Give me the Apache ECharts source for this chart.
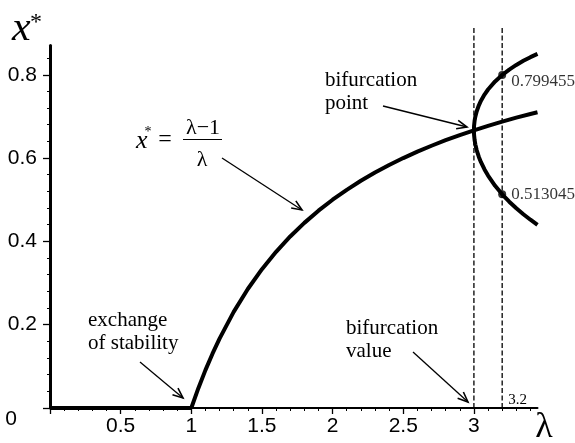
<!DOCTYPE html>
<html><head><meta charset="utf-8">
<script src="https://cdn.jsdelivr.net/npm/echarts@6/dist/echarts.min.js"></script>
<style>html,body{margin:0;padding:0;background:#fff}#c{width:575px;height:443px}</style>
</head><body><div id="c"></div>
<script>
// ---- data ----
const zeroLambda = [0, 1];
const zeroX = [0, 0];
const stableLambda = [1,1.05,1.1,1.15,1.2,1.3,1.4,1.5,1.6,1.7,1.8,1.9,2.0,2.1,2.2,2.3,2.4,2.5,2.6,2.7,2.8,2.9,3.0,3.1,3.2,3.3,3.4,3.45];
const stableX = [0,0.0476,0.0909,0.1304,0.1667,0.2308,0.2857,0.3333,0.375,0.4118,0.4444,0.4737,0.5,0.5238,0.5455,0.5652,0.5833,0.6,0.6154,0.6296,0.6429,0.6552,0.6667,0.6774,0.6875,0.6970,0.7059,0.7101];
const cycleLambda = [3.45,3.4,3.35,3.3,3.25,3.2,3.15,3.1,3.075,3.05,3.035,3.02,3.01,3.005,3.001,3.0,3.001,3.005,3.01,3.02,3.035,3.05,3.075,3.1,3.15,3.2,3.25,3.3,3.35,3.4,3.45];
const cycleX = [0.8500,0.8422,0.8334,0.8236,0.8124,0.7995,0.7840,0.7646,0.7525,0.7377,0.7267,0.7125,0.6994,0.6899,0.6772,0.6667,0.6561,0.6429,0.6329,0.6186,0.6028,0.5902,0.5727,0.5580,0.5335,0.5130,0.4953,0.4794,0.4651,0.4520,0.4398];
const markLambda = [3.2, 3.2];
const markX = [0.799455, 0.513045];
const markLabels = ['0.799455', '0.513045'];
const dashLambda = [3, 3.2];
const dashBottom = 0;
const dashTop = 0.915;
const dashValueLabel = '3.2';
const xTickValues = [0, 0.5, 1, 1.5, 2, 2.5, 3];
const xTickLabels = ['', '0.5', '1', '1.5', '2', '2.5', '3'];
const yTickValues = [0, 0.2, 0.4, 0.6, 0.8];
const yTickLabels = ['0', '0.2', '0.4', '0.6', '0.8'];
const xMin = 0, xMax = 3.45, yMin = 0, yMax = 0.87;

const SERIF = '"Liberation Serif","Times New Roman",serif';
const SANS = '"Liberation Sans",Arial,sans-serif';

const zip = (a, b) => a.map((v, i) => [v, b[i]]);
const curveStyle = { color: '#000', width: 4 };

const series = [
  { type: 'line', data: zip(zeroLambda, zeroX), showSymbol: false, lineStyle: curveStyle, z: 5 },
  { type: 'line', data: zip(stableLambda, stableX), showSymbol: false, lineStyle: curveStyle, z: 5 },
  { type: 'line', data: zip(cycleLambda, cycleX), showSymbol: false, lineStyle: curveStyle, z: 5 }
];
dashLambda.forEach((l) => {
  series.push({ type: 'line', clip: false, data: [[l, dashBottom], [l, dashTop]], showSymbol: false,
    lineStyle: { color: '#000', width: 1.3, type: [5, 2.5] }, z: 3 });
});
series.push({
  type: 'scatter', data: zip(markLambda, markX).map((p, i) => ({
    value: p,
    label: { show: true, formatter: markLabels[i], position: 'right', distance: 5, offset: [0, i === 0 ? 7 : 0],
      color: '#000', fontFamily: SERIF, fontSize: 17 }
  })),
  symbolSize: 8, itemStyle: { color: '#000' }, z: 6
});

const chart = echarts.init(document.getElementById('c'), null, { renderer: 'canvas' });
chart.setOption({
  animation: false,
  backgroundColor: '#fff',
  grid: { left: 50, right: 37.5, top: 45.6, bottom: 35, containLabel: false, outerBoundsMode: 'none' },
  xAxis: {
    type: 'value', min: xMin, max: xMax,
    axisLine: { show: true, lineStyle: { color: '#000', width: 2 } },
    axisTick: { show: true, customValues: xTickValues, length: 6, lineStyle: { color: '#000', width: 1.3 } },
    minorTick: { show: true, splitNumber: 5, length: 3, lineStyle: { color: '#000', width: 1 } },
    axisLabel: { customValues: xTickValues, formatter: (v) => xTickLabels[xTickValues.indexOf(v)] ?? '', color: '#000', fontFamily: SANS, fontSize: 21, margin: 8 },
    splitLine: { show: false }
  },
  yAxis: {
    type: 'value', min: yMin, max: yMax,
    axisLine: { show: true, lineStyle: { color: '#000', width: 3 } },
    axisTick: { show: true, customValues: yTickValues, length: 7, lineStyle: { color: '#000', width: 1.3 } },
    minorTick: { show: true, splitNumber: 5, length: 3, lineStyle: { color: '#000', width: 1 } },
    axisLabel: {
      customValues: yTickValues,
      formatter: (v) => { const i = yTickValues.indexOf(v); if (i < 0) return ''; return i === 0 ? '{z|' + yTickLabels[i] + '}' : yTickLabels[i]; },
      color: '#000', fontFamily: SANS, fontSize: 21, margin: 13,
      rich: { z: { color: '#000', fontFamily: SANS, fontSize: 21, padding: [22, 20, 0, 0] } }
    },
    splitLine: { show: false }
  },
  series: series
});

function txt(x, y, text, font, align, valign, extra) {
  return { type: 'text', x: x, y: y, z: 10, style: Object.assign({ text: text, font: font, fill: '#000',
    align: align, verticalAlign: valign, textAlign: align, textVerticalAlign: valign }, extra || {}) };
}
function arrow(x1, y1, x2, y2) {
  const a = Math.atan2(y2 - y1, x2 - x1), L = 11, s = 0.4;
  return [
    { type: 'line', z: 10, shape: { x1: x1, y1: y1, x2: x2, y2: y2 }, style: { stroke: '#000', lineWidth: 1.3 } },
    { type: 'polyline', z: 10, shape: { points: [[x2 - L * Math.cos(a - s), y2 - L * Math.sin(a - s)], [x2, y2], [x2 - L * Math.cos(a + s), y2 - L * Math.sin(a + s)]] },
      style: { stroke: '#000', lineWidth: 1.6, fill: null } }
  ];
}
const p32 = chart.convertToPixel({ gridIndex: 0 }, [dashLambda[1], 0]);
const g = [].concat(
  // axis titles
  txt(12, 29, 'x', 'italic 42px ' + SERIF, 'left', 'middle'),
  txt(36, 23, '*', '24px ' + SERIF, 'center', 'middle'),
  txt(544, 428, 'λ', '36px ' + SERIF, 'center', 'middle'),
  // formula
  txt(136, 141, 'x', 'italic 26px ' + SERIF, 'left', 'middle'),
  txt(148, 132, '*', '14px ' + SERIF, 'center', 'middle'),
  txt(165, 140, '=', '24px ' + SERIF, 'center', 'middle'),
  txt(203, 128, 'λ−1', '22px ' + SERIF, 'center', 'middle'),
  [{ type: 'line', z: 10, shape: { x1: 183, y1: 139.5, x2: 222, y2: 139.5 }, style: { stroke: '#000', lineWidth: 1 } }],
  txt(202, 160, 'λ', '22px ' + SERIF, 'center', 'middle'),
  arrow(222, 158, 302, 210),
  // annotations
  txt(325, 92, 'bifurcation\npoint', '21px ' + SERIF, 'left', 'middle', { lineHeight: 23 }),
  arrow(383, 106, 467, 127),
  txt(88, 332, 'exchange\nof stability', '21px ' + SERIF, 'left', 'middle', { lineHeight: 23 }),
  arrow(140, 362, 183, 398),
  txt(346, 340, 'bifurcation\nvalue', '21px ' + SERIF, 'left', 'middle', { lineHeight: 23 }),
  arrow(413, 352, 468, 402),
  txt(p32[0] + 6, p32[1] - 8, dashValueLabel, '15px ' + SERIF, 'left', 'middle')
);
chart.setOption({ graphic: { elements: g } });
</script>
</body></html>
